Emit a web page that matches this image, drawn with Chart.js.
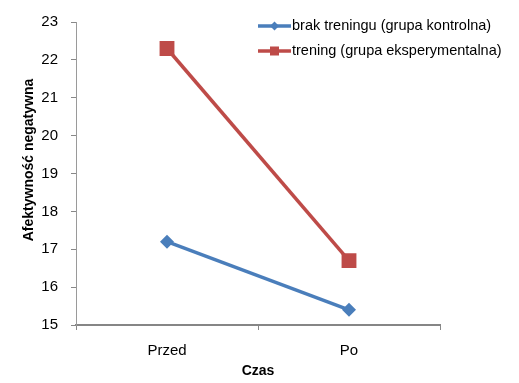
<!DOCTYPE html>
<html>
<head>
<meta charset="utf-8">
<script src="https://cdn.jsdelivr.net/npm/chart.js@4"></script>
<style>
html,body{margin:0;padding:0;background:#fff;}
#wrap{width:519px;height:383px;position:relative;}
</style>
</head>
<body>
<div id="wrap"><canvas id="c" width="519" height="383"></canvas></div>
<script>
const categories = ["Przed", "Po"];
const seriesNames = ["brak treningu (grupa kontrolna)", "trening (grupa eksperymentalna)"];
const controlValues = [17.2, 15.4];
const experimentalValues = [22.3, 16.7];
const yTicks = [15, 16, 17, 18, 19, 20, 21, 22, 23];
const xTitle = "Czas";
const yTitle = "Afektywność negatywna";

const FONT = "'Liberation Sans', Arial, sans-serif";
const blue = "#4A7EBB";
const red = "#BE4B48";

const overlayPlugin = {
  id: 'overlay',
  afterDraw(chart) {
    const ctx = chart.ctx;
    const items = chart.data.datasets;
    const x0 = 258, lineLen = 33;
    const ys = [26, 51];
    ctx.save();
    items.forEach((ds, i) => {
      const y = ys[i];
      ctx.strokeStyle = ds.borderColor;
      ctx.lineWidth = 3.5;
      ctx.beginPath();
      ctx.moveTo(x0, y); ctx.lineTo(x0 + lineLen, y); ctx.stroke();
      ctx.fillStyle = ds.backgroundColor;
      const cx = x0 + lineLen / 2;
      if (ds.pointStyle === 'rectRot') {
        ctx.beginPath();
        ctx.moveTo(cx, y - 4.5); ctx.lineTo(cx + 4.5, y); ctx.lineTo(cx, y + 4.5); ctx.lineTo(cx - 4.5, y);
        ctx.closePath(); ctx.fill();
      } else {
        ctx.fillRect(cx - 4.5, y - 4.5, 9, 9);
      }
      ctx.fillStyle = '#000';
      ctx.font = "14.5px " + FONT;
      ctx.textBaseline = 'middle';
      ctx.textAlign = 'left';
      ctx.fillText(ds.label, x0 + lineLen + 1, y);
    });
    // axis titles
    ctx.font = "bold 14px " + FONT;
    ctx.fillStyle = '#000';
    ctx.textAlign = 'center';
    ctx.textBaseline = 'middle';
    ctx.fillText(xTitle, (chart.chartArea.left + chart.chartArea.right) / 2, 371);
    ctx.translate(29, 160);
    ctx.rotate(-Math.PI / 2);
    ctx.fillText(yTitle, 0, 0);
    ctx.restore();
  }
};

new Chart(document.getElementById('c'), {
  type: 'line',
  data: {
    labels: categories,
    datasets: [
      {
        label: seriesNames[0],
        data: controlValues,
        borderColor: blue,
        backgroundColor: blue,
        borderWidth: 3.5,
        pointStyle: 'rectRot',
        pointRadius: 7,
        pointHoverRadius: 7,
        pointBorderWidth: 0,
        tension: 0
      },
      {
        label: seriesNames[1],
        data: experimentalValues,
        borderColor: red,
        backgroundColor: red,
        borderWidth: 3.5,
        pointStyle: 'rect',
        pointRadius: 10.5,
        pointHoverRadius: 10.5,
        pointBorderWidth: 0,
        tension: 0
      }
    ]
  },
  options: {
    responsive: false,
    animation: false,
    devicePixelRatio: 1,
    layout: { padding: { top: 20, right: 79, left: 0, bottom: 0 } },
    plugins: {
      legend: { display: false },
      tooltip: { enabled: false }
    },
    scales: {
      x: {
        type: 'category',
        offset: true,
        grid: {
          display: true,
          offset: true,
          drawOnChartArea: false,
          drawTicks: true,
          tickLength: 5,
          color: '#888888',
          lineWidth: 1
        },
        border: { display: true, color: '#868686', width: 2 },
        ticks: {
          color: '#000',
          font: { family: FONT, size: 15 },
          padding: 12
        },
        title: { display: false },
        afterFit(scale) { scale.height = 58; }
      },
      y: {
        min: 15,
        max: 23,
        afterBuildTicks(scale) { scale.ticks = yTicks.map(v => ({ value: v })); },
        grid: {
          display: true,
          drawOnChartArea: false,
          drawTicks: true,
          tickLength: 5,
          color: '#888888'
        },
        border: { display: true, color: '#9a9a9a', width: 1 },
        ticks: {
          color: '#000',
          font: { family: FONT, size: 15 },
          padding: 13
        },
        title: { display: false },
        afterFit(scale) { scale.width = 76; }
      }
    }
  },
  plugins: [overlayPlugin]
});
</script>
</body>
</html>
